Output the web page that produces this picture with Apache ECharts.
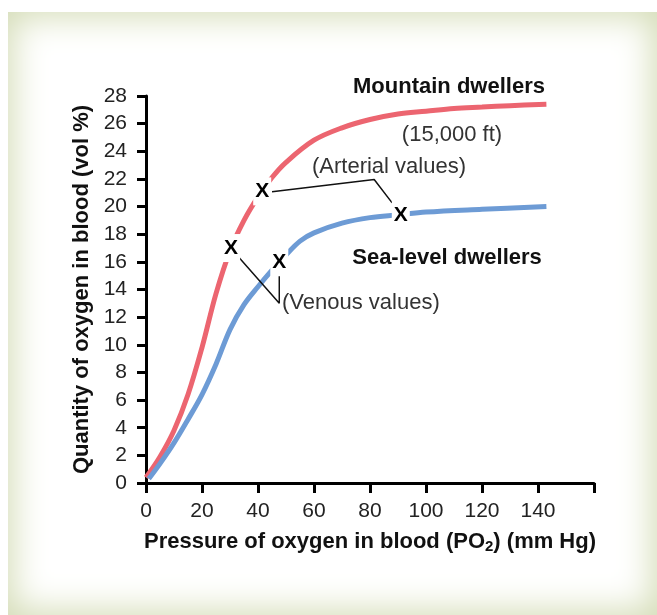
<!DOCTYPE html>
<html>
<head>
<meta charset="utf-8">
<script src="https://cdn.jsdelivr.net/npm/echarts@6/dist/echarts.min.js"></script>
<style>
html, body { margin: 0; padding: 0; background: #fff; }
#frame { position: absolute; left: 8px; top: 12px; right: 0; bottom: 0; background: #fff;
  box-shadow: inset 0 0 34px 5px #d4dcb6; }
#chart { position: absolute; left: 0; top: 0; width: 657px; height: 615px; }
</style>
</head>
<body>
<div id="frame"></div>
<div id="chart"></div>
<script>
// oxygen dissociation curves
var mountainPO2 = [0, 5, 10, 15, 20, 25, 30, 35, 40, 45, 50, 60, 70, 80, 90, 100, 110, 120, 130, 143];
var mountainO2  = [0.4, 1.9, 3.8, 6.4, 9.8, 13.7, 16.8, 19.0, 20.7, 22.1, 23.2, 24.8, 25.7, 26.3, 26.7, 26.9, 27.1, 27.2, 27.3, 27.4];
var seaPO2 = [1, 5, 10, 15, 20, 25, 30, 35, 40, 45, 50, 55, 60, 70, 80, 90, 100, 120, 143];
var seaO2  = [0.3, 1.4, 2.9, 4.6, 6.4, 8.6, 11.1, 12.9, 14.2, 15.4, 16.5, 17.5, 18.1, 18.8, 19.2, 19.4, 19.6, 19.8, 20.0];

// X marks: mountain venous, mountain arterial, sea venous, sea arterial
var markPO2 = [30.4, 41.5, 47.6, 91];
var markO2  = [17.0, 21.1, 16.0, 19.4];

// leader lines to the labels
var arterialLinkPO2 = [45, 81.5, 87.9];
var arterialLinkO2  = [21.07, 21.96, 20.27];
var venousLinkPO2 = [33.3, 47.6, 47.6];
var venousLinkO2  = [16.3, 13.0, 14.95];

function pairs(xs, ys) {
	var out = [];
	for (var i = 0; i < xs.length; i++) out.push([xs[i], ys[i]]);
	return out;
}

var FONT = '"Liberation Sans", Arial, sans-serif';
var chart = echarts.init(document.getElementById('chart'));

function txt(x, y, s, bold, align) {
	return {
		type: 'text', x: x, y: y, z: 10,
		style: {
			text: s, fill: bold ? '#111' : '#333',
			font: (bold ? 'bold ' : '') + '22px ' + FONT,
			align: align || 'center', verticalAlign: 'middle',
			textAlign: align || 'center', textVerticalAlign: 'middle'
		}
	};
}

chart.setOption({
	animation: false,
	grid: { left: 146, right: 63, top: 96, bottom: 132 },
	xAxis: {
		type: 'value', min: 0, max: 160, interval: 20,
		name: '{a|Pressure of oxygen in blood (PO}{s|2}{a|) (mm Hg)}',
		nameLocation: 'middle', nameGap: 46,
		nameTextStyle: {
			rich: {
				a: { fontFamily: FONT, fontSize: 22, fontWeight: 'bold', color: '#111' },
				s: { fontFamily: FONT, fontSize: 15, fontWeight: 'bold', color: '#111', padding: [10, 0, 0, 0] }
			}
		},
		axisLine: { lineStyle: { color: '#000', width: 3 } },
		axisTick: { length: 10, lineStyle: { color: '#000', width: 3 } },
		axisLabel: {
			margin: 18, fontFamily: FONT, fontSize: 21, color: '#222',
			formatter: function (v) { return v === 160 ? '' : v; }
		},
		splitLine: { show: false }
	},
	yAxis: {
		type: 'value', min: 0, max: 28, interval: 2,
		name: 'Quantity of oxygen in blood (vol %)',
		nameLocation: 'middle', nameGap: 52,
		nameTextStyle: { fontFamily: FONT, fontSize: 22, fontWeight: 'bold', color: '#111' },
		axisLine: { show: true, lineStyle: { color: '#000', width: 3 } },
		axisTick: { show: true, length: 9, lineStyle: { color: '#000', width: 3 } },
		axisLabel: { margin: 19, fontFamily: FONT, fontSize: 21, color: '#222' },
		splitLine: { show: false }
	},
	series: [
		{
			type: 'line', data: pairs(mountainPO2, mountainO2), smooth: 0.35,
			symbol: 'none', z: 2, lineStyle: { color: '#ec6570', width: 5 }
		},
		{
			type: 'line', data: pairs(seaPO2, seaO2), smooth: 0.35,
			symbol: 'none', z: 2, lineStyle: { color: '#6d9bd5', width: 5 }
		},
		{
			type: 'line', data: pairs(arterialLinkPO2, arterialLinkO2),
			symbol: 'none', z: 3, lineStyle: { color: '#111', width: 1.5 }
		},
		{
			type: 'line', data: pairs(venousLinkPO2, venousLinkO2),
			symbol: 'none', z: 3, lineStyle: { color: '#111', width: 1.5 }
		},
		{
			type: 'scatter', data: pairs(markPO2, markO2), z: 5,
			symbolSize: 1, itemStyle: { color: '#fff', opacity: 1 },
			label: {
				show: true, position: 'inside', formatter: 'X',
				fontFamily: FONT, fontSize: 21, fontWeight: 'bold', color: '#000',
				textBorderWidth: 0, backgroundColor: '#fff', padding: [4, 2, 3, 2]
			}
		}
	],
	graphic: [
		txt(449, 87, 'Mountain dwellers', true),
		txt(452, 135, '(15,000 ft)', false),
		txt(389, 167, '(Arterial values)', false),
		txt(447, 258, 'Sea-level dwellers', true),
		txt(282, 303, '(Venous values)', false, 'left')
	]
});
</script>
</body>
</html>
